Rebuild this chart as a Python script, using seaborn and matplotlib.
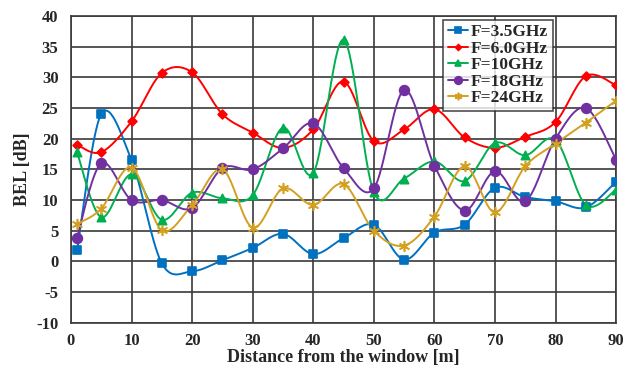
import numpy as np
import pandas as pd
import matplotlib
matplotlib.use("Agg")
import matplotlib.pyplot as plt
import seaborn as sns

distance = [1, 5, 10, 15, 20, 25, 30, 35, 40, 45, 50, 55, 60, 65, 70, 75, 80, 85, 90]
bel_3_5 = [1.8, 24.0, 16.5, -0.3, -1.6, 0.2, 2.2, 4.5, 1.2, 3.8, 6.0, 0.3, 4.7, 6.0, 12.0, 10.5, 9.8, 8.8, 13.0]
bel_6_0 = [19.0, 17.8, 22.8, 30.7, 30.8, 24.0, 21.0, 18.5, 21.5, 29.3, 19.6, 21.5, 24.8, 20.2, 18.5, 20.3, 22.7, 30.2, 28.7]
bel_10 = [17.8, 7.2, 14.2, 6.8, 11.2, 10.3, 10.8, 21.8, 14.4, 36.1, 11.3, 13.5, 16.3, 13.1, 19.3, 17.3, 19.8, 9.2, 11.7]
bel_18 = [3.9, 16.0, 10.0, 10.0, 8.7, 15.2, 15.0, 18.4, 22.5, 15.2, 11.9, 27.9, 15.6, 8.3, 14.7, 9.8, 20.0, 25.0, 16.6]
bel_24 = [6.1, 8.6, 15.3, 5.1, 9.2, 15.0, 5.5, 11.9, 9.2, 12.6, 5.0, 2.6, 7.3, 15.5, 8.0, 15.5, 19.2, 22.6, 26.2]
series_names = ["F=3.5GHz", "F=6.0GHz", "F=10GHz", "F=18GHz", "F=24GHz"]
x_ticks = [0, 10, 20, 30, 40, 50, 60, 70, 80, 90]
y_ticks = [-10, -5, 0, 5, 10, 15, 20, 25, 30, 35, 40]

colors = ["#0070C0", "#FF0000", "#00B050", "#7030A0", "#D4A020"]
markers = ["s", "D", "^", "o", (6, 2, 0)]
msizes = [6, 4.5, 6, 7, 7]

series = [bel_3_5, bel_6_0, bel_10, bel_18, bel_24]


def smooth(x, y, n=30):
    # Excel-like smoothed line (Catmull-Rom Bezier) for display only
    x = np.asarray(x, float)
    y = np.asarray(y, float)
    px, py = [], []
    m = len(x)
    for i in range(m - 1):
        p0 = (x[max(i - 1, 0)], y[max(i - 1, 0)])
        p1 = (x[i], y[i])
        p2 = (x[i + 1], y[i + 1])
        p3 = (x[min(i + 2, m - 1)], y[min(i + 2, m - 1)])
        c1 = (p1[0] + (p2[0] - p0[0]) / 6, p1[1] + (p2[1] - p0[1]) / 6)
        c2 = (p2[0] - (p3[0] - p1[0]) / 6, p2[1] - (p3[1] - p1[1]) / 6)
        t = np.linspace(0, 1, n, endpoint=(i == m - 2))
        b0 = (1 - t) ** 3
        b1 = 3 * (1 - t) ** 2 * t
        b2 = 3 * (1 - t) * t ** 2
        b3 = t ** 3
        px.extend(b0 * p1[0] + b1 * c1[0] + b2 * c2[0] + b3 * p2[0])
        py.extend(b0 * p1[1] + b1 * c1[1] + b2 * c2[1] + b3 * p2[1])
    return np.array(px), np.array(py)


sns.set_theme(style="white")
plt.rcParams["font.family"] = ["Liberation Serif", "DejaVu Serif"]
plt.rcParams["font.weight"] = "bold"
plt.rcParams["axes.unicode_minus"] = False

fig = plt.figure(figsize=(6.28, 3.69), dpi=100)
ax = fig.add_axes([0.113, 0.125, 0.868, 0.832])

handles = []
for name, vals, c, mk, ms in zip(series_names, series, colors, markers, msizes):
    sx, sy = smooth(distance, vals)
    sns.lineplot(x=sx, y=sy, ax=ax, color=c, lw=1.4, sort=False, estimator=None)
    df = pd.DataFrame({"x": distance, "y": vals})
    sns.scatterplot(data=df, x="x", y="y", ax=ax, color=c, marker=mk, s=ms ** 2 * 1.0,
                    edgecolor=c if mk != (6, 2, 0) else None, linewidth=1.2, zorder=3)
    h, = ax.plot([], [], color=c, marker=mk, ms=ms - 1.5, lw=1.4, mec=c, mew=1.2)
    handles.append(h)

ax.set_xlim(0, 90)
ax.set_ylim(-10, 40)
ax.set_xticks(x_ticks)
ax.set_yticks(y_ticks)
ax.grid(True, color="#3a3a3a", lw=1.2)
for s in ax.spines.values():
    s.set_color("#3a3a3a")
    s.set_linewidth(1.2)
ax.tick_params(axis="x", labelsize=12, length=0, pad=7)
ax.tick_params(axis="y", labelsize=12, length=0, pad=9)
for lab in ax.get_xticklabels() + ax.get_yticklabels():
    lab.set_fontweight("bold")
ax.set_xlabel("Distance from the window [m]", fontsize=13, fontweight="bold", labelpad=0)
ax.set_ylabel("BEL [dB]", fontsize=13, fontweight="bold", labelpad=4)

leg = ax.legend(handles, series_names, loc="upper left", bbox_to_anchor=(0.683, 0.987),
                borderaxespad=0, frameon=True, fancybox=False, fontsize=12.5,
                handlelength=1.15, borderpad=0.25, labelspacing=0.02, handletextpad=0.2)
leg.get_frame().set_edgecolor("#222222")
leg.get_frame().set_linewidth(1.2)
for t in leg.get_texts():
    t.set_fontweight("bold")

fig.savefig("out.png", dpi=100)
